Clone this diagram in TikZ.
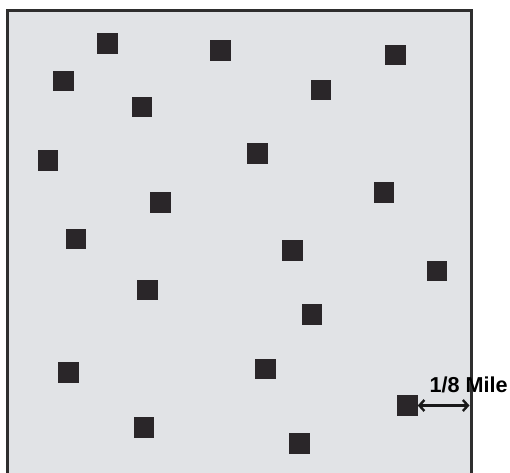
\documentclass[tikz,border=0pt]{standalone}
\usepackage{fontspec}
\setmainfont{Liberation Sans}
\usetikzlibrary{arrows.meta}
\definecolor{bgfill}{HTML}{E1E3E6}
\definecolor{sqfill}{HTML}{2A2629}
\definecolor{framec}{HTML}{2E2E2E}
\tikzset{
  house/.style={fill=sqfill, draw=none, minimum size=20.5pt, inner sep=0pt, outer sep=0pt},
  frameline/.style={draw=framec, line width=3pt},
  dimarrow/.style={{Straight Barb[length=5pt,width=11pt,line width=2.4pt]}-{Straight Barb[length=5pt,width=11pt,line width=2.4pt]}, line width=2.4pt, draw=black!90}
}
\begin{document}
\begin{tikzpicture}[x=1pt,y=-1pt]
\useasboundingbox (0,0) rectangle (510,472);
\begin{scope}
\clip (0,0) rectangle (510,472);
\fill[bgfill] (7,10.5) rectangle (471,480);
\draw[frameline] (7,480) -- (7,10.5) -- (471,10.5) -- (471,480);
\end{scope}
\node[house] (s1) at (107.5,43.3) {};
\node[house] (s2) at (220.5,50.3) {};
\node[house] (s3) at (395.3,54.8) {};
\node[house] (s4) at (63.5,80.8) {};
\node[house] (s5) at (320.8,90) {};
\node[house] (s6) at (141.8,106.8) {};
\node[house] (s7) at (48,160.3) {};
\node[house] (s8) at (257.7,153.3) {};
\node[house] (s9) at (384,192.5) {};
\node[house] (s10) at (160.7,202.7) {};
\node[house] (s11) at (76.2,239) {};
\node[house] (s12) at (292.7,250.3) {};
\node[house] (s13) at (437,271) {};
\node[house] (s14) at (147.3,290) {};
\node[house] (s15) at (311.8,314.7) {};
\node[house] (s16) at (68.3,372.5) {};
\node[house] (s17) at (265.5,369.2) {};
\node[house] (s18) at (407.5,405.5) {};
\node[house] (s19) at (143.8,427.5) {};
\node[house] (s20) at (299.7,443.5) {};
\coordinate (edge) at (469.5,405.5);
\draw[dimarrow] (s18.east) -- (edge);
\node[anchor=base west, inner sep=0pt, font=\bfseries\fontsize{21.6}{24}\selectfont] (lbl) at (429.3,392) {1/8 Mile};
\end{tikzpicture}
\end{document}
